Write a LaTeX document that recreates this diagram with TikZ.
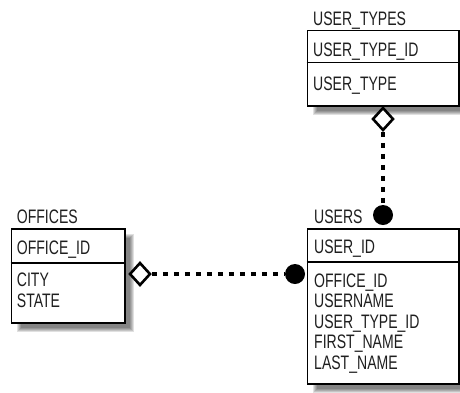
\documentclass[tikz,border=0pt]{standalone}
\usepackage{fontspec}
\setmainfont{Liberation Sans}[FakeStretch=0.72]
\usetikzlibrary{shapes.geometric}
\newcommand\erdshadow[4]{%
  \foreach \e in {-2,-1,0,1,2}{%
    \fill[black, fill opacity=0.12] (#1+8+\e,#2+8+\e) rectangle (#3+8-\e,#4+8-\e);}}
\begin{document}
\begin{tikzpicture}[x=1pt,y=-1pt,
  tbl/.style={draw, line width=1.5pt, fill=white, inner sep=0, anchor=north west},
  lbl/.style={anchor=base west, inner sep=0, font=\fontsize{19.5}{21}\selectfont, text=black!88},
  dia/.style={diamond, draw, line width=2.6pt, fill=white, inner sep=0, minimum width=21pt, minimum height=23pt},
  dotend/.style={circle, fill=black, inner sep=0, minimum size=20pt},
  rel/.style={line width=3.5pt, dash pattern=on 5.5pt off 5.5pt}]
\useasboundingbox (0,0) rectangle (460,392);
\fill[white] (0,0) rectangle (460,392);
% shadows
\erdshadow{306.5}{29.5}{458}{105}
\erdshadow{306.5}{228}{458}{383}
\erdshadow{10.5}{228}{124}{322}
% USER_TYPES
\node[tbl, minimum width=151.5pt, minimum height=75.5pt] (ut) at (306.5,29.5) {};
\draw[line width=1.5pt] (306.5,62.5) coordinate (utd1) -- (458,62.5) coordinate (utd2);
\node[lbl] (utT) at (313,25) {USER\_TYPES};
\node[lbl] (ut1) at (313,56) {USER\_TYPE\_ID};
\node[lbl] (ut2) at (313,90) {USER\_TYPE};
% USERS
\node[tbl, minimum width=151.5pt, minimum height=155pt] (us) at (306.5,228) {};
\draw[line width=1.5pt] (306.5,262) coordinate (usd1) -- (458,262) coordinate (usd2);
\node[lbl] (usT) at (314,223) {USERS};
\node[lbl] (us1) at (314,253.5) {USER\_ID};
\node[lbl] (us2) at (314,287) {OFFICE\_ID};
\node[lbl] (us3) at (314,307.5) {USERNAME};
\node[lbl] (us4) at (314,328) {USER\_TYPE\_ID};
\node[lbl] (us5) at (314,348.5) {FIRST\_NAME};
\node[lbl] (us6) at (314,369) {LAST\_NAME};
% OFFICES
\node[tbl, minimum width=113.5pt, minimum height=94pt] (of) at (10.5,228) {};
\draw[line width=1.5pt] (10.5,263) coordinate (ofd1) -- (124,263) coordinate (ofd2);
\node[lbl] (ofT) at (16.7,223) {OFFICES};
\node[lbl] (of1) at (16.7,254) {OFFICE\_ID};
\node[lbl] (of2) at (16.7,286) {CITY};
\node[lbl] (of3) at (16.7,307) {STATE};
% relationship ends
\node[dia] (d1) at (383,119) {};
\node[dotend] (c1) at (383,215) {};
\node[dia] (d2) at (140,274) {};
\node[dotend] (c2) at (295,274) {};
\draw[rel] (d1.south) -- (c1.north);
\draw[rel] (d2.east) -- (c2.west);
\end{tikzpicture}
\end{document}
